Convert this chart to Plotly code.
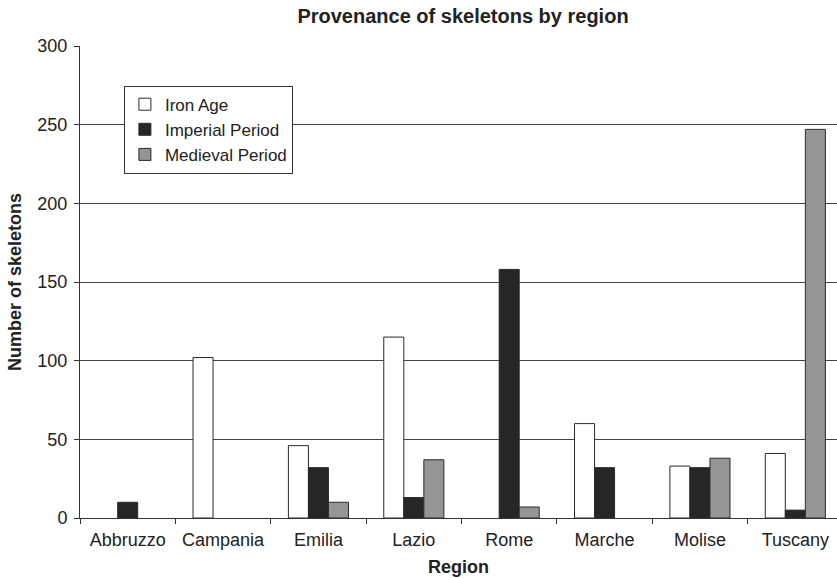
import plotly.graph_objects as go

# Skeleton counts per region and period (None = no skeletons from that period)
regions = ["Abbruzzo", "Campania", "Emilia", "Lazio", "Rome", "Marche", "Molise", "Tuscany"]
iron_age = [None, 102, 46, 115, None, 60, 33, 41]
imperial_period = [10, None, 32, 13, 158, 32, 32, 5]
medieval_period = [None, None, 10, 37, 7, None, 38, 247]

series = [
    ("Iron Age", iron_age, "#ffffff"),
    ("Imperial Period", imperial_period, "#262626"),
    ("Medieval Period", medieval_period, "#959595"),
]

FONT = "Liberation Sans, Arial, Helvetica, sans-serif"
TEXT = "#222222"

fig = go.Figure()
for name, values, color in series:
    fig.add_trace(go.Bar(
        name=name,
        x=regions,
        y=values,
        marker=dict(color=color, line=dict(color="#2a2a2a", width=1)),
    ))

fig.update_layout(
    width=837,
    height=578,
    margin=dict(l=80, r=0, t=46, b=60),
    paper_bgcolor="white",
    plot_bgcolor="white",
    barmode="group",
    bargap=0.37,
    bargroupgap=0,
    font=dict(family=FONT, size=18, color=TEXT),
    title=dict(
        text="<b>Provenance of skeletons by region</b>",
        font=dict(family=FONT, size=20, color=TEXT),
        x=(463 / 837), xanchor="center",
        y=1 - 16 / 578, yanchor="middle", yref="container",
    ),
    legend=dict(
        x=0.058, y=0.916, xanchor="left", yanchor="top",
        bgcolor="white", bordercolor="#333333", borderwidth=1,
        font=dict(family=FONT, size=17, color=TEXT),
        itemwidth=30,
        tracegroupgap=0,
    ),
    showlegend=True,
)

fig.update_xaxes(
    range=[-0.5, 7.437],
    showgrid=False,
    showline=True, linecolor="#333333", linewidth=1,
    ticks="outside", ticklen=5, tickcolor="#333333",
    tickson="boundaries",
    ticklabelstandoff=5,
    tickfont=dict(family=FONT, size=18, color=TEXT),
    title=dict(text="<b>Region</b>", font=dict(family=FONT, size=18, color=TEXT), standoff=11),
)

fig.update_yaxes(
    range=[0, 300],
    tickvals=[0, 50, 100, 150, 200, 250, 300],
    showgrid=True, gridcolor="#444444", gridwidth=1,
    zeroline=False,
    showline=True, linecolor="#333333", linewidth=1,
    ticks="outside", ticklen=5, tickcolor="#333333",
    ticklabelstandoff=3,
    tickfont=dict(family=FONT, size=18, color=TEXT),
    title=dict(text="<b>Number of skeletons</b>", font=dict(family=FONT, size=18, color=TEXT), standoff=11),
)

fig.write_html("out.html")
